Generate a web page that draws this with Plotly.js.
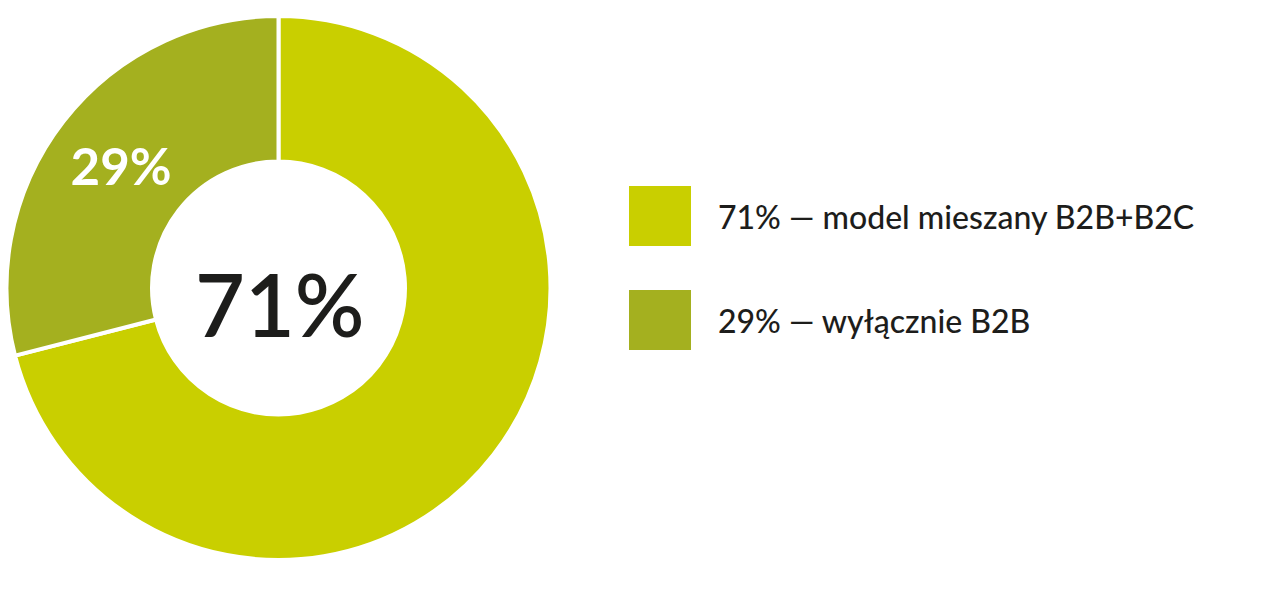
<!DOCTYPE html>
<html>
<head>
<meta charset="utf-8">
<script src="https://cdn.plot.ly/plotly-3.0.1.min.js"></script>
<style>
  html, body { margin: 0; padding: 0; background: #fff; }
  #chart { width: 1262px; height: 611px; }
</style>
</head>
<body>
<div id="chart"></div>
<script>
// Data
const categories = ['model mieszany B2B+B2C', 'wyłącznie B2B'];
const shares = [71, 29];
const sliceColors = ['#c9cf00', '#a4b01f'];
const centerLabel = '71%';

const W = 1262, H = 611;
const font = 'Lato, "Open Sans", sans-serif';
const ink = '#1d1d1b';

// Donut
const donut = {
    type: 'pie',
    labels: categories,
    values: shares,
    sort: false,
    direction: 'clockwise',
    rotation: 0,
    hole: 0.465,
    marker: { colors: sliceColors, line: { color: '#ffffff', width: 4 } },
    texttemplate: '%{value}%',
    textposition: ['none', 'inside'],
    insidetextorientation: 'horizontal',
    textfont: { family: font, size: 51, color: '#ffffff', weight: 700 },
    hoverinfo: 'label+percent',
    showlegend: false,
    domain: { x: [5 / W, 552 / W], y: [1 - 560 / H, 1 - 16 / H] }
};

// Legend built from the arrays (squares + text)
const shapes = [];
const annotations = [{
    text: centerLabel,
    x: 280 / W, y: 1 - 303 / H, xref: 'paper', yref: 'paper',
    xanchor: 'center', yanchor: 'middle', showarrow: false,
    font: { family: font, size: 86, color: ink, weight: 600 }
}];

const legendRows = [216, 320];
categories.forEach(function (cat, i) {
    const yc = legendRows[i];
    shapes.push({
        type: 'rect', xref: 'paper', yref: 'paper',
        x0: 629 / W, x1: 691 / W,
        y0: 1 - (yc + 30) / H, y1: 1 - (yc - 30) / H,
        fillcolor: sliceColors[i], line: { width: 0 }
    });
    annotations.push({
        text: shares[i] + '% — ' + cat,
        x: 716 / W, y: 1 - yc / H, xref: 'paper', yref: 'paper',
        xanchor: 'left', yanchor: 'middle', showarrow: false,
        font: { family: font, size: 32, color: ink, weight: 500 }
    });
});

const layout = {
    width: W, height: H,
    margin: { l: 0, r: 0, t: 0, b: 0 },
    paper_bgcolor: '#ffffff',
    plot_bgcolor: '#ffffff',
    shapes: shapes,
    annotations: annotations
};

Plotly.newPlot('chart', [donut], layout, { displayModeBar: false, staticPlot: true });
</script>
</body>
</html>
